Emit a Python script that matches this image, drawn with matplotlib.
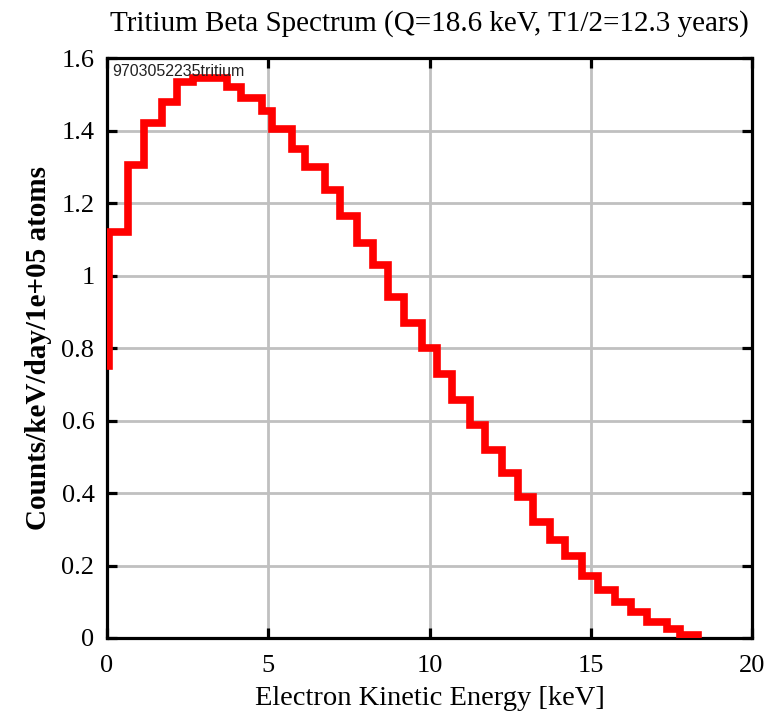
import numpy as np
import matplotlib
matplotlib.use("Agg")
import matplotlib.pyplot as plt
from matplotlib.ticker import FuncFormatter

# step histogram: left edge of each bin and its height (counts/keV/day/1e5 atoms)
bin_left = [0.0, 0.05, 0.64, 1.15, 1.70, 2.17, 2.67, 3.19, 3.72, 4.16, 4.81,
            5.12, 5.74, 6.14, 6.76, 7.22, 7.75, 8.25, 8.71, 9.21, 9.77, 10.23,
            10.70, 11.26, 11.72, 12.25, 12.74, 13.21, 13.74, 14.20, 14.73,
            15.22, 15.75, 16.25, 16.74, 17.36, 17.77, 18.33]
counts = [0.75, 1.12, 1.305, 1.42, 1.48, 1.535, 1.545, 1.545, 1.52, 1.49,
          1.455, 1.405, 1.35, 1.30, 1.236, 1.164, 1.09, 1.03, 0.94, 0.869,
          0.80, 0.728, 0.657, 0.588, 0.52, 0.455, 0.39, 0.32, 0.27, 0.226,
          0.172, 0.132, 0.098, 0.072, 0.045, 0.025, 0.008, 0.0]

x_ticks = [0, 5, 10, 15, 20]
y_ticks = [0, 0.2, 0.4, 0.6, 0.8, 1.0, 1.2, 1.4, 1.6]

plt.rcParams['font.family'] = ['Liberation Serif', 'DejaVu Serif']

fig = plt.figure(figsize=(7.83, 7.15), dpi=100)
ax = fig.add_axes([107/783, 1 - 638/715, 645/783, 580/715])

ax.step(bin_left, counts, where='post', color='#ff0000', lw=5.5,
        solid_joinstyle='miter', solid_capstyle='butt', zorder=3)

ax.set_xlim(0, 20)
ax.set_ylim(0, 1.6)
ax.set_xticks(x_ticks)
ax.set_yticks(y_ticks)
ax.yaxis.set_major_formatter(FuncFormatter(lambda v, p: '%g' % v))
ax.grid(True, color='#c0c0c0', lw=2)
ax.set_axisbelow(True)

for s in ax.spines.values():
    s.set_linewidth(2.3)
    s.set_color('black')
ax.tick_params(direction='in', length=7, width=2.3, top=True, right=True,
               labelsize=19, pad=9, colors='black')
ax.tick_params(axis='x', pad=12)

ax.set_title('Tritium Beta Spectrum (Q=18.6 keV, T1/2=12.3 years)',
             fontsize=21, pad=20)
ax.set_xlabel('Electron Kinetic Energy [keV]', fontsize=20.5, labelpad=7)
ax.set_ylabel('Counts/keV/day/1e+05 atoms', fontsize=21, fontweight='bold',
              labelpad=7)

ax.text(0.008, 0.99, '9703052235tritium', transform=ax.transAxes,
        fontsize=11.5, family='Liberation Sans', va='top', ha='left',
        color='#222222', zorder=4)

fig.savefig('out.png', dpi=100)
